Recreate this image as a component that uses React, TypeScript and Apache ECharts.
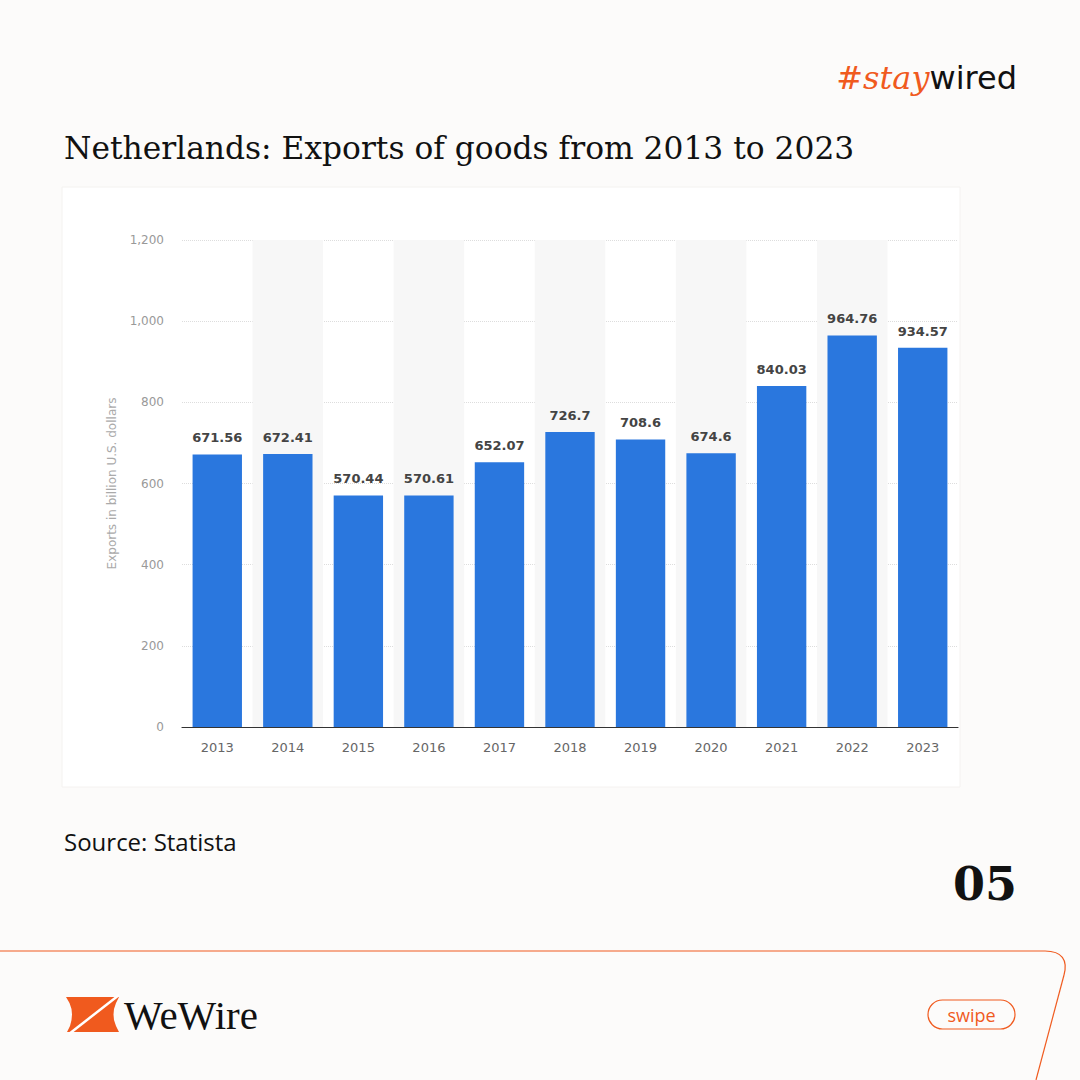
import React, { useEffect, useRef } from "react";
import * as echarts from "echarts";

const years = ["2013", "2014", "2015", "2016", "2017", "2018", "2019", "2020", "2021", "2022", "2023"];
const exportsBn = [671.56, 672.41, 570.44, 570.61, 652.07, 726.7, 708.6, 674.6, 840.03, 964.76, 934.57];
const yTicks = { min: 0, max: 1200, interval: 200 };

const ORANGE = "#f05a1e";

export default function App() {
  const ref = useRef<HTMLDivElement>(null);
  useEffect(() => {
    if (!ref.current) return;
    const chart = echarts.init(ref.current, undefined, { renderer: "svg" });
    chart.setOption({
      animation: false,
      backgroundColor: "#fcfbfa",
      grid: { left: 182, right: 122, top: 240, bottom: 353, containLabel: false },
      xAxis: {
        type: "category",
        data: years,
        axisLine: { lineStyle: { color: "#333", width: 1.2 } },
        axisTick: { show: false },
        axisLabel: { color: "#666", fontSize: 13, margin: 14, fontFamily: "DejaVu Sans" },
        splitArea: { show: true, areaStyle: { color: ["rgba(255,255,255,0)", "#f7f7f7"] } },
      },
      yAxis: {
        type: "value",
        min: yTicks.min,
        max: yTicks.max,
        interval: yTicks.interval,
        name: "Exports in billion U.S. dollars",
        nameLocation: "middle",
        nameGap: 64,
        nameTextStyle: { color: "#aaa", fontSize: 12, fontFamily: "DejaVu Sans" },
        axisLabel: {
          color: "#999",
          fontSize: 12,
          margin: 18,
          fontFamily: "DejaVu Sans",
          formatter: (v: number) => v.toLocaleString("en-US"),
        },
        splitLine: { lineStyle: { color: "#ddd", type: [1, 1] } },
      },
      series: [
        {
          type: "bar",
          data: exportsBn,
          barWidth: "70%",
          itemStyle: { color: "#2a77de" },
          label: {
            show: true,
            position: "top",
            distance: 10,
            color: "#444",
            fontSize: 13,
            fontWeight: "bold",
            fontFamily: "DejaVu Sans",
          },
        },
      ],
      graphic: [
        {
          type: "rect",
          z: -10,
          shape: { x: 62, y: 187, width: 898, height: 600 },
          style: { fill: "#ffffff", stroke: "#f4f2f0", lineWidth: 1 },
          silent: true,
        },
        {
          type: "text",
          x: 1017,
          y: 78,
          style: {
            text: "{o|#stay}{b|wired}",
            align: "right",
            verticalAlign: "middle",
            rich: {
              o: { fill: ORANGE, fontSize: 32, fontStyle: "italic", fontFamily: "DejaVu Serif" },
              b: { fill: "#111", fontSize: 32, fontFamily: "DejaVu Sans" },
            },
          },
        },
        {
          type: "text",
          x: 64,
          y: 148,
          style: {
            text: "Netherlands: Exports of goods from 2013 to 2023",
            fill: "#111",
            fontSize: 31.3,
            fontFamily: "DejaVu Serif",
            verticalAlign: "middle",
          },
        },
        {
          type: "text",
          x: 64,
          y: 841,
          style: {
            text: "Source: Statista",
            fill: "#111",
            fontSize: 24,
            fontFamily: "Open Sans",
            verticalAlign: "middle",
          },
        },
        {
          type: "text",
          x: 1017,
          y: 884,
          style: {
            text: "05",
            fill: "#111",
            fontSize: 46,
            fontWeight: "bold",
            fontFamily: "DejaVu Serif",
            align: "right",
            verticalAlign: "middle",
          },
        },
        {
          type: "polyline",
          shape: { points: [[0, 951], [1045, 951]] },
          style: { stroke: ORANGE, lineWidth: 1.2, fill: "none" },
        },
        {
          type: "bezierCurve",
          shape: { x1: 1045, y1: 951, cpx1: 1062, cpy1: 951, cpx2: 1068, cpy2: 960, x2: 1064, y2: 975 },
          style: { stroke: ORANGE, lineWidth: 1.2, fill: "none" },
        },
        {
          type: "line",
          shape: { x1: 1064, y1: 975, x2: 1036, y2: 1080 },
          style: { stroke: ORANGE, lineWidth: 1.2 },
        },
        {
          type: "polygon",
          shape: {
            points: [
              [66, 997], [119, 997], [116, 1003], [114, 1009], [113.5, 1014.5], [114, 1020], [116, 1026], [119, 1032],
              [67, 1032], [70, 1026], [71.5, 1020], [72, 1014.5], [71.5, 1009], [69.5, 1003],
            ],
          },
          style: { fill: ORANGE },
        },
        {
          type: "line",
          shape: { x1: 119, y1: 995, x2: 69, y2: 1034 },
          style: { stroke: "#ffffff", lineWidth: 2.5 },
        },
        {
          type: "text",
          x: 124,
          y: 1015,
          style: {
            text: "WeWire",
            fill: "#111",
            fontSize: 41,
            fontFamily: "Liberation Serif",
            verticalAlign: "middle",
          },
        },
        {
          type: "rect",
          shape: { x: 928, y: 1000, width: 87, height: 29, r: 14.5 },
          style: { fill: "none", stroke: ORANGE, lineWidth: 1.2 },
        },
        {
          type: "text",
          x: 971.5,
          y: 1015,
          style: {
            text: "swipe",
            fill: ORANGE,
            fontSize: 18,
            fontFamily: "Open Sans",
            align: "center",
            verticalAlign: "middle",
          },
        },
      ],
    });
    return () => chart.dispose();
  }, []);
  return <div ref={ref} style={{ width: 1080, height: 1080, position: "absolute", left: 0, top: 0 }} />;
}
